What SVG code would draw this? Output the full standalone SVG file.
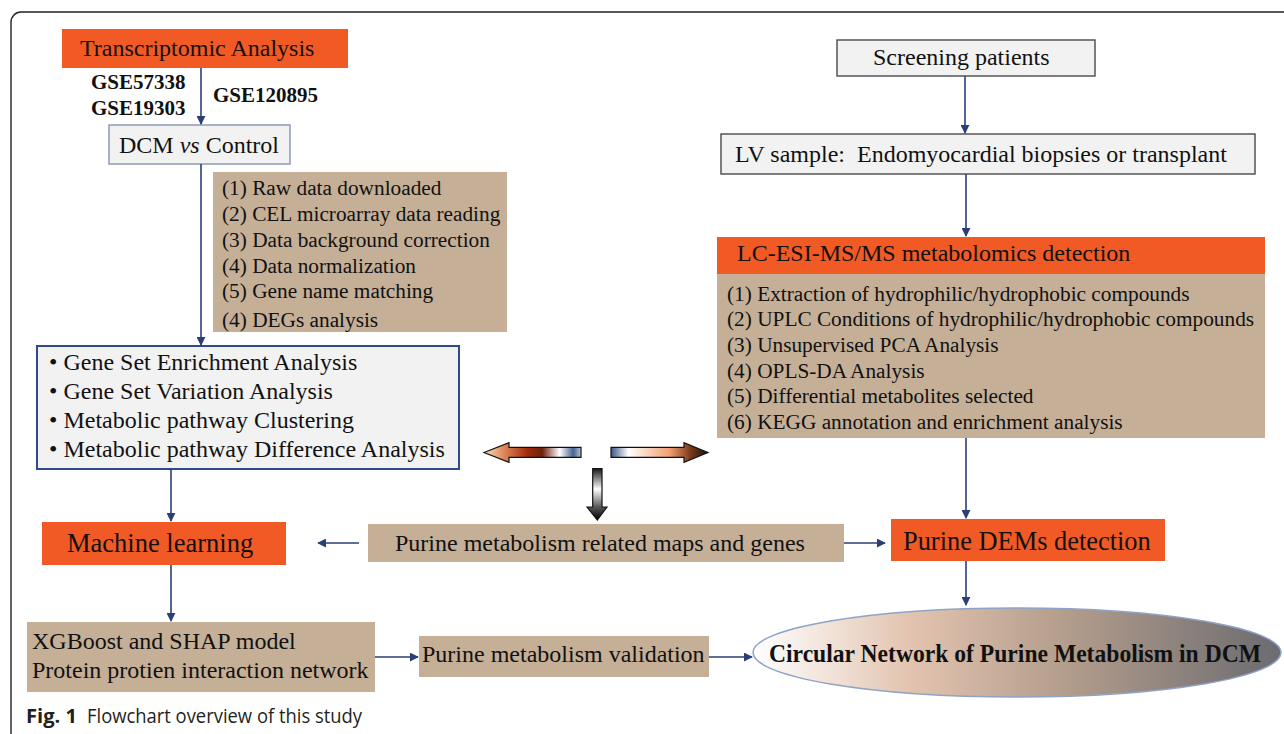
<svg xmlns="http://www.w3.org/2000/svg" width="1284" height="734" viewBox="0 0 1284 734">
<defs>
<style>
.t{font-family:"Liberation Serif","Times New Roman",serif;fill:#111;}
.s24{font-size:24px;}
.s21{font-size:21.3px;}
.b{font-weight:bold;}
.org{fill:#F15A24;}
.tan{fill:#C5AF97;}
.gry{fill:#F2F2F2;stroke:#555;stroke-width:1.5;}
.con line{stroke:#2A3F78;stroke-width:1.6;fill:none;marker-end:url(#ah);}
</style>
<marker id="ah" viewBox="0 0 10 10" refX="9" refY="5" markerWidth="9" markerHeight="9" markerUnits="userSpaceOnUse" orient="auto">
<path d="M0,0 L10,5 L0,10 Z" fill="#2A3F78"/>
</marker>
<linearGradient id="gl" x1="0" y1="0" x2="1" y2="0">
<stop offset="0" stop-color="#F6DCC2"/>
<stop offset="0.2" stop-color="#E08A5A"/>
<stop offset="0.45" stop-color="#A02A0A"/>
<stop offset="0.6" stop-color="#6E2010"/>
<stop offset="0.78" stop-color="#FFFFFF"/>
<stop offset="0.92" stop-color="#4A6290"/>
<stop offset="1" stop-color="#B8C4D8"/>
</linearGradient>
<linearGradient id="gr" x1="0" y1="0" x2="1" y2="0">
<stop offset="0" stop-color="#3E5684"/>
<stop offset="0.18" stop-color="#FFFFFF"/>
<stop offset="0.6" stop-color="#F3A070"/>
<stop offset="0.82" stop-color="#7A3A1A"/>
<stop offset="1" stop-color="#111"/>
</linearGradient>
<linearGradient id="gd" x1="0" y1="0" x2="0" y2="1">
<stop offset="0" stop-color="#1A1A1A"/>
<stop offset="0.4" stop-color="#FFFFFF"/>
<stop offset="0.75" stop-color="#555"/>
<stop offset="1" stop-color="#000"/>
</linearGradient>
<linearGradient id="ge" x1="0" y1="0" x2="1" y2="0">
<stop offset="0" stop-color="#FFFFFF"/>
<stop offset="0.3" stop-color="#E2C3AF"/>
<stop offset="0.6" stop-color="#B29C8B"/>
<stop offset="1" stop-color="#6B6B70"/>
</linearGradient>
</defs>
<rect width="1284" height="734" fill="#fff"/>
<path d="M11,734 V22 A10,10 0 0 1 21,12 H1284" fill="none" stroke="#222" stroke-width="1.4"/>

<g id="transcriptomic">
<rect class="org" x="62" y="29" width="286" height="39"/>
<text class="t s24" x="80" y="56">Transcriptomic Analysis</text>
</g>
<g id="gse-labels">
<text class="t b" font-size="21" x="91" y="89">GSE57338</text>
<text class="t b" font-size="21" x="91" y="115">GSE19303</text>
<text class="t b" font-size="21" x="213" y="102">GSE120895</text>
</g>
<g id="dcm">
<rect x="109" y="125" width="181" height="39" fill="#F2F2F2" stroke="#8C9BB5" stroke-width="1.5"/>
<text class="t s24" x="119" y="153">DCM <tspan font-style="italic">vs</tspan> Control</text>
</g>
<g id="preprocess">
<rect class="tan" x="213" y="172" width="294" height="160"/>
<text class="t s21" x="222" y="195">(1) Raw data downloaded</text>
<text class="t s21" x="222" y="221">(2) CEL microarray data reading</text>
<text class="t s21" x="222" y="247">(3) Data background correction</text>
<text class="t s21" x="222" y="273">(4) Data normalization</text>
<text class="t s21" x="222" y="298">(5) Gene name matching</text>
<text class="t s21" x="222" y="327">(4) DEGs analysis</text>
</g>
<g id="gsea">
<rect x="37" y="346" width="422" height="123" fill="#F2F2F2" stroke="#2E4A8C" stroke-width="2"/>
<text class="t s24" x="49" y="370">• Gene Set Enrichment Analysis</text>
<text class="t s24" x="49" y="399">• Gene Set Variation Analysis</text>
<text class="t s24" x="49" y="428">• Metabolic pathway Clustering</text>
<text class="t s24" x="49" y="457">• Metabolic pathway Difference Analysis</text>
</g>
<g id="machine-learning">
<rect class="org" x="42" y="522" width="244" height="43"/>
<text class="t" font-size="26.5" x="67" y="552">Machine learning</text>
</g>
<g id="xgboost">
<rect class="tan" x="27" y="622" width="348" height="70"/>
<text class="t s24" x="32" y="649">XGBoost and SHAP model</text>
<text class="t s24" x="32" y="678">Protein protien interaction network</text>
</g>
<g id="validation">
<rect class="tan" x="419" y="636" width="290" height="41"/>
<text class="t s24" x="422" y="662">Purine metabolism validation</text>
</g>
<g id="purine-maps">
<rect class="tan" x="368" y="524" width="476" height="38"/>
<text class="t s24" x="395" y="551">Purine metabolism related maps and genes</text>
</g>
<g id="screening">
<rect class="gry" x="837" y="40" width="258" height="36"/>
<text class="t s24" x="873" y="65">Screening patients</text>
</g>
<g id="lv-sample">
<rect class="gry" x="721" y="134" width="534" height="40"/>
<text class="t s24" x="735" y="162" xml:space="preserve">LV sample:  Endomyocardial biopsies or transplant</text>
</g>
<g id="lcms">
<rect class="org" x="717" y="237" width="548" height="37"/>
<rect class="tan" x="717" y="274" width="548" height="164"/>
<text class="t s24" x="737" y="261">LC-ESI-MS/MS metabolomics detection</text>
<text class="t s21" x="727" y="301">(1) Extraction of hydrophilic/hydrophobic compounds</text>
<text class="t s21" x="727" y="326">(2) UPLC Conditions of hydrophilic/hydrophobic compounds</text>
<text class="t s21" x="727" y="352">(3) Unsupervised PCA Analysis</text>
<text class="t s21" x="727" y="378">(4) OPLS-DA Analysis</text>
<text class="t s21" x="727" y="403">(5) Differential metabolites selected</text>
<text class="t s21" x="727" y="429">(6) KEGG annotation and enrichment analysis</text>
</g>
<g id="purine-dems">
<rect class="org" x="891" y="519" width="274" height="42"/>
<text class="t" font-size="26.4" x="903" y="550">Purine DEMs detection</text>
</g>
<g id="circular-network">
<ellipse cx="1017" cy="652.5" rx="264" ry="44.5" fill="url(#ge)" stroke="#8EA3C6" stroke-width="1.5"/>
<text class="t b" font-size="24.5" x="769" y="662" textLength="492" lengthAdjust="spacingAndGlyphs">Circular Network of Purine Metabolism in DCM</text>
</g>
<g id="block-arrows" stroke="#111" stroke-width="1.2">
<path d="M484,452.5 L509,442.7 L509,447.3 L581,447.3 L581,457.3 L509,457.3 L509,462.3 Z" fill="url(#gl)"/>
<path d="M708,452.5 L684,442.7 L684,447.3 L611,447.3 L611,457.3 L684,457.3 L684,462.3 Z" fill="url(#gr)"/>
<path d="M592.7,468.7 L602,468.7 L602,507 L607,507 L597.3,520 L587,507 L592.7,507 Z" fill="url(#gd)"/>
</g>
<g id="connectors" class="con">
<line x1="201" y1="68" x2="201" y2="124"/>
<line x1="201" y1="164" x2="201" y2="345"/>
<line x1="171" y1="469" x2="171" y2="521"/>
<line x1="171" y1="565" x2="171" y2="621"/>
<line x1="375" y1="657" x2="418" y2="657"/>
<line x1="709" y1="657" x2="752" y2="657"/>
<line x1="359" y1="543" x2="318" y2="543"/>
<line x1="844" y1="543" x2="885" y2="543"/>
<line x1="965" y1="76" x2="965" y2="133"/>
<line x1="966" y1="174" x2="966" y2="236"/>
<line x1="966" y1="438" x2="966" y2="518"/>
<line x1="966" y1="561" x2="966" y2="605"/>
</g>
<g id="caption">
<text x="26" y="723" font-family="'Open Sans','Liberation Sans',sans-serif" font-size="20" font-weight="bold" fill="#231F20" textLength="51" lengthAdjust="spacingAndGlyphs">Fig. 1</text>
<text x="87" y="723" font-family="'Open Sans','Liberation Sans',sans-serif" font-size="19.5" fill="#231F20" textLength="275" lengthAdjust="spacingAndGlyphs">Flowchart overview of this study</text>
</g>
</svg>
